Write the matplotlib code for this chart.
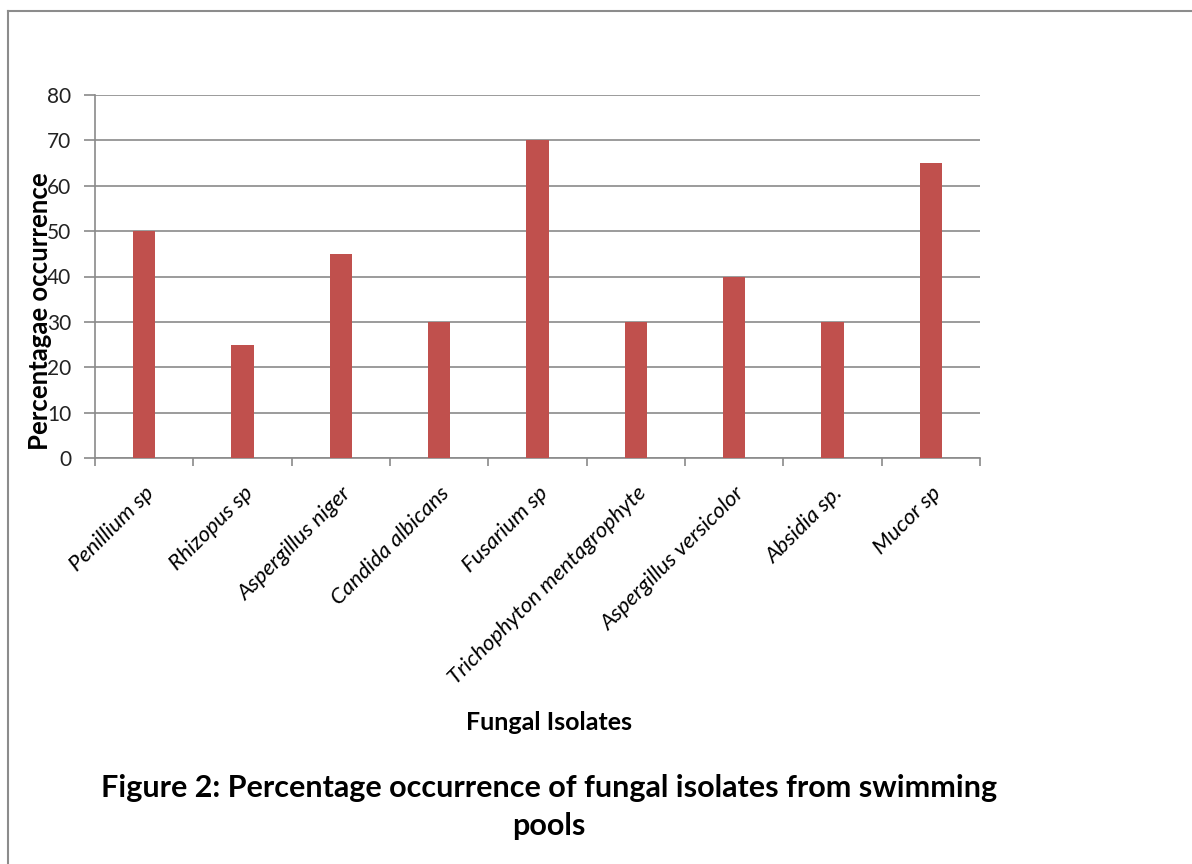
import numpy as np
import matplotlib
matplotlib.use('Agg')
import matplotlib.pyplot as plt
from matplotlib.lines import Line2D

# data
isolates = ['Penillium sp', 'Rhizopus sp', 'Aspergillus niger', 'Candida albicans',
            'Fusarium sp', 'Trichophyton mentagrophyte', 'Aspergillus versicolor',
            'Absidia sp.', 'Mucor sp']
occurrence = [50, 25, 45, 30, 70, 30, 40, 30, 65]
yticks = [0, 10, 20, 30, 40, 50, 60, 70, 80]

plt.rcParams['font.family'] = ['Lato', 'DejaVu Sans']

W, H = 1192, 864
fig = plt.figure(figsize=(W/100, H/100), dpi=100)

# outer frame, only left and top edges show in the original
fl, ft = 8/W, 1 - 11/H
fig.lines.append(Line2D([fl, fl], [0, ft], transform=fig.transFigure,
                        color='#8c8c8c', linewidth=1.5))
fig.lines.append(Line2D([fl, 1], [ft, ft], transform=fig.transFigure,
                        color='#8c8c8c', linewidth=1.5))

ax = fig.add_axes([95/W, 1 - 458/H, (980-95)/W, (458-95)/H])

x = np.arange(len(isolates))
ax.bar(x, occurrence, width=0.225, color='#C0504D', zorder=3)

ax.set_xlim(-0.5, len(isolates) - 0.5)
ax.set_ylim(0, 80)
ax.set_yticks(yticks)
ax.set_yticklabels([str(v) for v in yticks], fontsize=15, color='#222222')
ax.yaxis.grid(True, color='#8a8a8a', linewidth=1.2, zorder=0)

ax.set_xticks(x)
ax.set_xticklabels(isolates, rotation=45, ha='right', va='top',
                   rotation_mode='anchor', fontsize=16, style='italic')
ax.set_xticks(np.arange(len(isolates) + 1) - 0.5, minor=True)
ax.tick_params(axis='x', which='major', length=0, pad=18)
ax.tick_params(axis='x', which='minor', length=6, color='#8a8a8a', width=1.2)
ax.tick_params(axis='y', length=8, color='#8a8a8a', width=1.2, pad=9)

for s in ['top', 'right']:
    ax.spines[s].set_visible(False)
for s in ['left', 'bottom']:
    ax.spines[s].set_color('#8a8a8a')
    ax.spines[s].set_linewidth(1.2)

fig.text(40/W, 1 - 311/H, 'Percentagae occurrence', rotation=90, ha='center',
         va='center', fontsize=18.5, fontweight='bold')
fig.text(549/W, 1 - 722/H, 'Fungal Isolates', ha='center', va='center',
         fontsize=18, fontweight='bold')
fig.text(549/W, 1 - 788/H, 'Figure 2: Percentage occurrence of fungal isolates from swimming',
         ha='center', va='center', fontsize=22, fontweight='bold')
fig.text(549/W, 1 - 826/H, 'pools', ha='center', va='center',
         fontsize=22, fontweight='bold')

fig.savefig('out.png', dpi=100)
